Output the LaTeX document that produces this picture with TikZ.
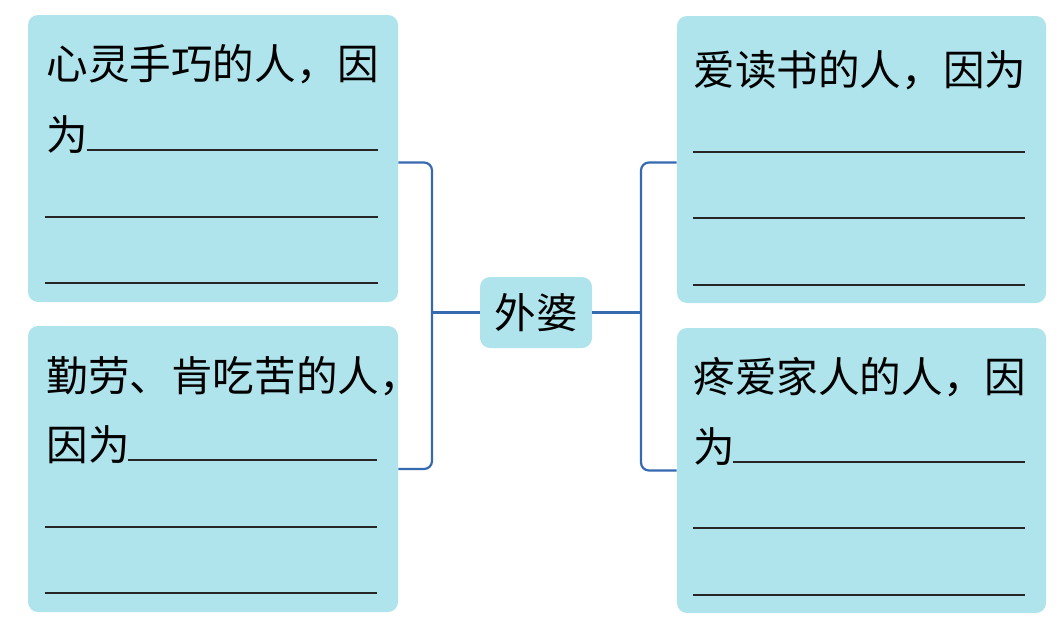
\documentclass[tikz,border=0pt]{standalone}
\usepackage{fontspec}
\newfontfamily\cjk{Noto Sans CJK SC}
\usetikzlibrary{positioning}
\definecolor{cardbg}{HTML}{B0E4EC}
\definecolor{linkblue}{HTML}{3569B0}

\begin{document}
\begin{tikzpicture}[x=0.5pt, y=-0.5pt, font=\cjk\fontsize{20.8pt}{24pt}\selectfont,
  card/.style={rectangle, rounded corners=5pt, fill=cardbg, inner sep=0pt},
  hub/.style={rectangle, rounded corners=5pt, fill=cardbg, inner sep=0pt, minimum width=56pt, minimum height=35.5pt},
  txt/.style={anchor=west, inner sep=0pt},
  blank/.style={draw=black!85, line width=1.4pt},
  link/.style={draw=linkblue, line width=1.1pt, rounded corners=4pt}
]
  \useasboundingbox (0,0) rectangle (1059,632);
  % cards
  \node[card, minimum width=185pt, minimum height=143.5pt] (craft) at (213,158.5) {};
  \node[card, minimum width=185pt, minimum height=143pt]   (toil)  at (213,469)   {};
  \node[card, minimum width=184.5pt, minimum height=143.5pt] (read) at (861.5,159.5) {};
  \node[card, minimum width=184.5pt, minimum height=142.5pt] (care) at (861.5,470.5) {};
  \node[hub] (granny) at (536,312.5) {外婆};
  % brackets
  \coordinate (lj) at (432,312.5);
  \coordinate (rj) at (641,312.5);
  \draw[link] ([yshift=-2pt]craft.east) -| (lj) |- (toil.east);
  \draw[link] ([yshift=-1.5pt]read.west) -| (rj) |- (care.west);
  \draw[link] (lj) -- (granny.west);
  \draw[link] (granny.east) -- (rj);
  % texts
  \node[txt] (craft1) at (46,64)  {心灵手巧的人，因};
  \node[txt] (craft2) at (46,135) {为};
  \draw[blank] (87,150) -- (378,150);
  \draw[blank] (45,217) -- (378,217);
  \draw[blank] (45,283) -- (378,283);
  \node[txt] (toil1) at (46,376) {勤劳、肯吃苦的人，};
  \node[txt] (toil2) at (46,445) {因为};
  \draw[blank] (128,460) -- (377,460);
  \draw[blank] (45,527) -- (377,527);
  \draw[blank] (45,593) -- (377,593);
  \node[txt] (read1) at (693,70) {爱读书的人，因为};
  \draw[blank] (693,152) -- (1025,152);
  \draw[blank] (693,218) -- (1025,218);
  \draw[blank] (693,285) -- (1025,285);
  \node[txt] (care1) at (693,377) {疼爱家人的人，因};
  \node[txt] (care2) at (693,447) {为};
  \draw[blank] (733,462) -- (1025,462);
  \draw[blank] (693,528) -- (1025,528);
  \draw[blank] (693,595) -- (1025,595);
\end{tikzpicture}
\end{document}
